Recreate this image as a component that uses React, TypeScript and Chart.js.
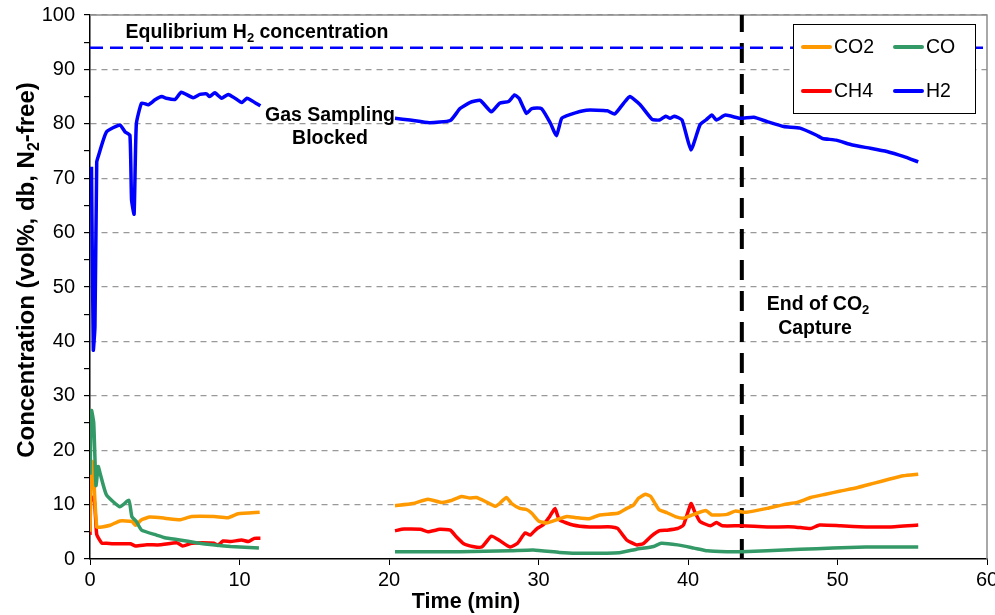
import React, { useEffect, useRef } from 'react';
import { Chart, registerables } from 'chart.js';

Chart.register(...registerables);

const FONT = '"Liberation Sans", Arial, Helvetica, sans-serif';

// ---- Data (time in min, concentration in vol%) ----
const xTicks = [0, 10, 20, 30, 40, 50, 60];
const yTicks = [0, 10, 20, 30, 40, 50, 60, 70, 80, 90, 100];

const h2TimeA = [0.1, 0.22, 0.33, 0.45, 0.55, 1.1, 2.0, 2.35, 2.67, 2.78, 2.95, 3.1, 3.45, 3.9, 4.35, 4.8, 5.1, 5.7, 6.1, 6.9, 7.35, 7.8, 8.0, 8.35, 8.8, 9.25, 9.7, 10.15, 10.5, 10.8, 11.4];
const h2ValA = [72.1, 38.4, 42.7, 73, 74, 78.5, 79.8, 78.5, 77.9, 66, 63.4, 80, 83.8, 83.5, 84.4, 85, 84.7, 84.5, 85.8, 84.8, 85.4, 85.5, 85, 85.7, 84.7, 85.4, 84.7, 83.9, 84.7, 84.3, 83.3];
const h2TimeB = [20.4, 21.4, 22.7, 24.1, 24.75, 25.4, 26.1, 26.85, 27.4, 28.0, 28.4, 28.7, 29.2, 29.55, 30.2, 30.8, 31.2, 31.55, 32.1, 33.2, 34.6, 35.1, 35.7, 36.1, 36.8, 37.6, 38.1, 38.5, 38.8, 39.1, 39.6, 40.2, 40.8, 41.2, 41.6, 41.9, 42.5, 43.5, 44.4, 45.3, 46.4, 47.5, 48.6, 49, 49.9, 51.0, 52.2, 53.3, 54.4, 55.4];
const h2ValB = [81, 80.7, 80.2, 80.6, 82.8, 83.9, 84.3, 82.2, 83.8, 84.1, 85.3, 84.7, 81.9, 82.8, 82.8, 80.1, 77.8, 81, 81.7, 82.5, 82.4, 81.8, 83.8, 85, 83.5, 80.8, 80.7, 81.4, 81, 81.4, 80.7, 75.2, 79.8, 80.7, 81.6, 80.7, 81.6, 81, 81.2, 80.4, 79.5, 79.2, 77.9, 77.3, 77, 76.1, 75.5, 74.9, 74, 73];

const co2TimeA = [0, 0.1, 0.2, 0.45, 0.8, 1.35, 2.0, 2.8, 3.05, 3.45, 4.0, 5.0, 6.0, 6.8, 8.3, 9.25, 9.9, 11.35];
const co2ValA = [5, 18, 17.5, 5.9, 5.9, 6.2, 7.0, 6.9, 6.2, 7.2, 7.7, 7.5, 7.2, 7.8, 7.8, 7.6, 8.3, 8.6];
const co2TimeB = [20.4, 21.6, 22.6, 23.5, 24.1, 24.85, 25.4, 25.85, 26.5, 27.1, 27.4, 27.85, 28.2, 28.75, 29.2, 29.55, 30.0, 30.55, 31.2, 31.9, 32.5, 33.4, 34.1, 35.3, 35.9, 36.35, 36.7, 37.15, 37.5, 38.05, 38.6, 39.15, 39.7, 40.4, 41.2, 41.6, 42.6, 43.15, 43.9, 45.3, 46.4, 47.3, 48.2, 49.2, 50.2, 51.3, 52.4, 53.5, 54.4, 55.4];
const co2ValB = [9.8, 10.2, 11.0, 10.4, 10.7, 11.5, 11.2, 11.3, 10.5, 9.7, 10.2, 11.3, 10.2, 9.3, 9.1, 8.4, 7.0, 6.6, 7.2, 7.8, 7.6, 7.4, 8.1, 8.4, 9.3, 9.9, 11.2, 11.9, 11.5, 9.1, 8.5, 7.8, 7.5, 8.2, 8.9, 8.1, 8.2, 8.8, 8.6, 9.3, 10.0, 10.4, 11.3, 11.9, 12.5, 13.1, 13.9, 14.7, 15.3, 15.6];

const coTimeA = [0, 0.1, 0.25, 0.4, 0.55, 0.7, 1.1, 2.0, 2.6, 2.8, 3.1, 3.45, 4.45, 5.0, 6.0, 7.1, 8.2, 9.4, 11.3];
const coValA = [15.5, 27.3, 25, 13.5, 17, 15.5, 11.8, 9.6, 10.8, 7.8, 6.9, 5.3, 4.4, 3.9, 3.5, 3.0, 2.6, 2.3, 2.0];
const coTimeB = [20.4, 24.7, 28.1, 29.65, 31.4, 32.5, 35.4, 36.55, 37.7, 38.2, 39.3, 40.4, 41.3, 42.6, 43.6, 45.3, 47.5, 49.7, 51.9, 55.4];
const coValB = [1.35, 1.35, 1.5, 1.65, 1.2, 1.05, 1.15, 1.8, 2.3, 2.9, 2.6, 2.0, 1.5, 1.35, 1.35, 1.5, 1.8, 2.0, 2.2, 2.2];

const ch4TimeA = [0, 0.05, 0.3, 0.45, 0.8, 1.1, 1.55, 2.7, 3.05, 3.8, 4.7, 5.8, 6.2, 6.8, 7.5, 8.3, 8.55, 8.9, 9.4, 10.15, 10.6, 11.0, 11.4];
const ch4ValA = [4.4, 11.5, 10.5, 4.5, 2.9, 2.9, 2.8, 2.8, 2.4, 2.6, 2.6, 3.0, 2.4, 2.9, 3.0, 2.9, 2.5, 3.3, 3.2, 3.5, 3.2, 3.8, 3.8];
const ch4TimeB = [20.4, 21.0, 22.1, 22.6, 23.4, 24.1, 24.5, 25.0, 25.6, 26.2, 26.85, 27.4, 28.1, 28.6, 29.1, 29.45, 29.9, 30.3, 30.75, 31.1, 31.4, 32.3, 33.4, 34.9, 35.3, 35.9, 36.55, 37.0, 37.55, 38.1, 38.6, 39.3, 39.7, 40.2, 40.45, 40.8, 41.5, 41.9, 42.3, 43.5, 45.3, 47.1, 48.2, 48.8, 50.2, 51.9, 53.5, 55.4];
const ch4ValB = [5.2, 5.5, 5.45, 5.0, 5.45, 5.3, 4.1, 2.8, 2.3, 2.2, 4.2, 3.4, 2.2, 2.9, 4.8, 4.4, 5.6, 6.25, 7.8, 9.3, 7.2, 6.25, 5.9, 5.9, 5.6, 3.5, 2.6, 2.8, 4.2, 5.2, 5.3, 5.6, 6.25, 10.2, 8.7, 6.9, 6.1, 6.7, 6.1, 6.1, 5.9, 5.9, 5.6, 6.25, 6.1, 5.9, 5.9, 6.25];

const gapTime = 15; // sampling blocked between the two segments
const equilibriumH2 = 94;
const captureEndTime = 43.6;

const seriesNames = ['CO2', 'CO', 'CH4', 'H2'];
const seriesColors = ['#FF9900', '#339966', '#FF0000', '#0000FF'];

function seg(tA: number[], vA: number[], tB: number[], vB: number[]) {
  return [
    ...tA.map((x, i) => ({ x, y: vA[i] })),
    { x: gapTime, y: null as any },
    ...tB.map((x, i) => ({ x, y: vB[i] })),
  ];
}

type Part = [string, boolean];
function drawRich(ctx: CanvasRenderingContext2D, parts: Part[], x: number, y: number, size: number, bold = true) {
  const w = bold ? 'bold ' : '';
  const subSize = Math.round(size * 0.66);
  let total = 0;
  for (const [t, sub] of parts) {
    ctx.font = `${w}${sub ? subSize : size}px ${FONT}`;
    total += ctx.measureText(t).width;
  }
  let cx = x - total / 2;
  ctx.textAlign = 'left';
  ctx.textBaseline = 'alphabetic';
  for (const [t, sub] of parts) {
    ctx.font = `${w}${sub ? subSize : size}px ${FONT}`;
    ctx.fillText(t, cx, sub ? y + size * 0.22 : y);
    cx += ctx.measureText(t).width;
  }
}

const decorPlugin = {
  id: 'decor',
  beforeDatasetsDraw(chart: any) {
    const { ctx, chartArea: a } = chart;
    ctx.save();
    ctx.strokeStyle = '#8c8c8c';
    ctx.lineWidth = 1.5;
    ctx.beginPath();
    ctx.moveTo(a.left, a.top);
    ctx.lineTo(a.right, a.top);
    ctx.lineTo(a.right, a.bottom);
    ctx.stroke();
    ctx.restore();
  },
  afterDraw(chart: any) {
    const { ctx } = chart;
    ctx.save();
    ctx.fillStyle = '#000';
    // annotations
    drawRich(ctx, [['Equlibrium H', false], ['2', true], [' concentration', false]], 257, 38, 19.5);
    drawRich(ctx, [['Gas Sampling', false]], 330, 121, 19.5);
    drawRich(ctx, [['Blocked', false]], 330, 144, 19.5);
    drawRich(ctx, [['End of CO', false], ['2', true]], 818, 310, 19.5);
    drawRich(ctx, [['Capture', false]], 815, 334, 19.5);
    // axis titles
    drawRich(ctx, [['Time (min)', false]], 466, 608, 21.5);
    ctx.save();
    ctx.translate(34, 270);
    ctx.rotate(-Math.PI / 2);
    drawRich(ctx, [['Concentration (vol%, db, N', false], ['2', true], ['-free)', false]], 0, 0, 24);
    ctx.restore();

    // legend
    const lx = 793, ly = 24, lw = 182, lh = 89;
    ctx.fillStyle = '#fff';
    ctx.fillRect(lx, ly, lw, lh);
    ctx.strokeStyle = '#000';
    ctx.lineWidth = 1;
    ctx.strokeRect(lx + 0.5, ly + 0.5, lw, lh);
    const pos = [[803, 47], [895, 47], [803, 91], [895, 91]];
    seriesNames.forEach((name, i) => {
      const [px, py] = pos[i];
      ctx.strokeStyle = seriesColors[i];
      ctx.lineWidth = 4;
      ctx.lineCap = 'round';
      ctx.beginPath();
      ctx.moveTo(px, py);
      ctx.lineTo(px + 27, py);
      ctx.stroke();
      ctx.fillStyle = '#000';
      ctx.font = `19.5px ${FONT}`;
      ctx.textAlign = 'left';
      ctx.textBaseline = 'middle';
      ctx.fillText(name, px + 31, py + 1);
    });
    ctx.restore();
  },
};

export default function App() {
  const ref = useRef<HTMLCanvasElement>(null);
  useEffect(() => {
    if (!ref.current) return;
    const lineBase = { pointRadius: 0, borderWidth: 3.5, tension: 0.15, spanGaps: false, fill: false };
    const chart = new Chart(ref.current, {
      type: 'line',
      data: {
        datasets: [
          { label: 'Equilibrium', data: [{ x: 0, y: equilibriumH2 }, { x: 60, y: equilibriumH2 }], borderColor: '#0000FF', borderWidth: 2.5, borderDash: [13, 7], pointRadius: 0 },
          { label: 'CO', data: seg(coTimeA, coValA, coTimeB, coValB), borderColor: seriesColors[1], ...lineBase },
          { label: 'CO2', data: seg(co2TimeA, co2ValA, co2TimeB, co2ValB), borderColor: seriesColors[0], ...lineBase },
          { label: 'CH4', data: seg(ch4TimeA, ch4ValA, ch4TimeB, ch4ValB), borderColor: seriesColors[2], ...lineBase },
          { label: 'H2', data: seg(h2TimeA, h2ValA, h2TimeB, h2ValB), borderColor: seriesColors[3], ...lineBase },
          { label: 'End', data: [{ x: captureEndTime, y: 0 }, { x: captureEndTime, y: 100 }], borderColor: '#000', borderWidth: 4, borderDash: [20, 11], pointRadius: 0 },
        ] as any,
      },
      options: {
        animation: false,
        responsive: false,
        parsing: true,
        layout: { padding: { top: 15, right: 8, left: 0, bottom: 0 } },
        plugins: { legend: { display: false }, tooltip: { enabled: false } },
        scales: {
          x: {
            type: 'linear',
            min: 0,
            max: 60,
            afterBuildTicks: (s: any) => { s.ticks = xTicks.map((v) => ({ value: v })); },
            afterFit: (s: any) => { s.height = 56; s.paddingRight = 3; s.paddingLeft = 0; },
            ticks: { color: '#000', font: { family: FONT, size: 20 }, padding: 3, maxRotation: 0, autoSkip: false },
            grid: { drawOnChartArea: false, drawTicks: true, tickLength: 6, tickColor: '#000', tickWidth: 1 },
            border: { color: '#000', width: 1.5 },
          },
          y: {
            type: 'linear',
            min: 0,
            max: 100,
            afterBuildTicks: (s: any) => {
              const t: any[] = [];
              for (let v = 0; v <= 100; v += 5) t.push({ value: v });
              s.ticks = t;
            },
            afterFit: (s: any) => { s.width = 90; s.paddingTop = 0; s.paddingBottom = 0; },
            ticks: {
              color: '#000',
              font: { family: FONT, size: 20 },
              padding: 9,
              autoSkip: false,
              callback: (v: any) => (yTicks.includes(Number(v)) ? String(v) : ''),
            },
            grid: {
              color: (c: any) => (c.tick && c.tick.value % 10 === 0 && c.tick.value !== 0 ? '#999999' : 'rgba(0,0,0,0)'),
              lineWidth: 1.2,
              tickBorderDash: [],
              drawTicks: true,
              tickLength: 6,
              tickColor: '#000',
            },
            border: { color: '#000', width: 1.5, dash: [6, 5] } as any,
          },
        },
      } as any,
      plugins: [decorPlugin],
    });
    return () => chart.destroy();
  }, []);
  return (
    <div style={{ position: 'fixed', left: 0, top: 0, width: 995, height: 615, background: '#fff' }}>
      <canvas ref={ref} width={995} height={615} style={{ width: 995, height: 615 }} />
    </div>
  );
}
